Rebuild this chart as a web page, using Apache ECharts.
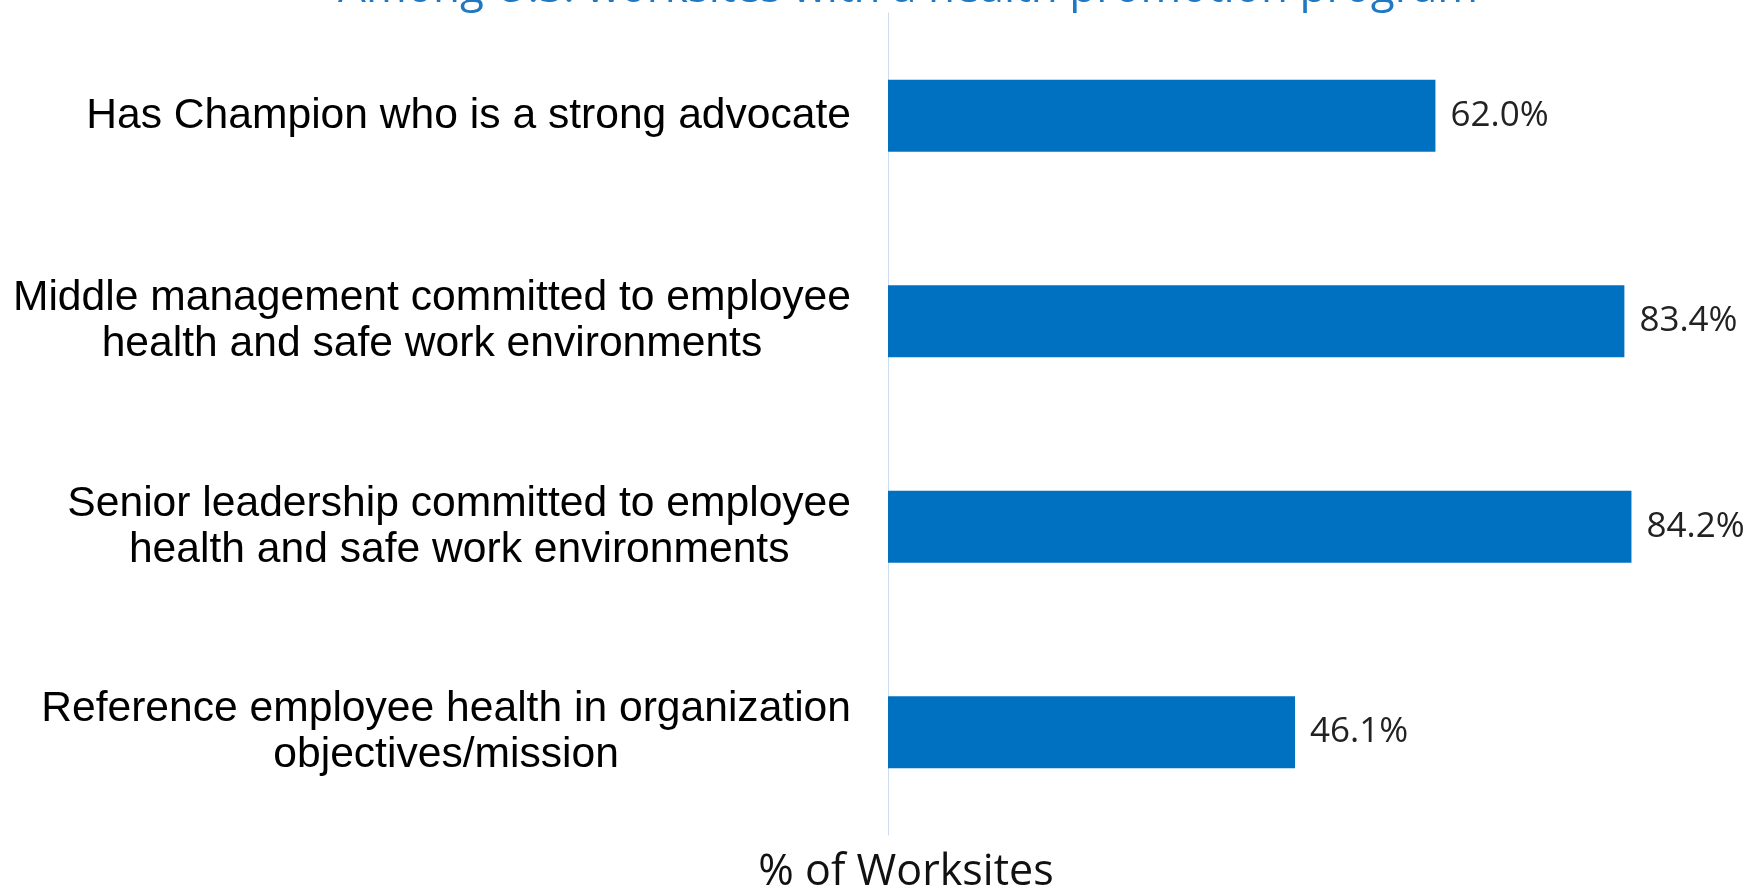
<!DOCTYPE html>
<html>
<head>
<meta charset="utf-8">
<script src="https://cdn.jsdelivr.net/npm/echarts@6/dist/echarts.min.js"></script>
<style>
html,body{margin:0;padding:0;background:#fff;}
#chart{width:1748px;height:889px;}
</style>
</head>
<body>
<div id="chart"></div>
<script>
const titleText = 'Among U.S. worksites with a health promotion program';
const axisTitle = '% of Worksites';
const categories = [
  'Has Champion who is a strong advocate',
  'Middle management committed to employee\nhealth and safe work environments',
  'Senior leadership committed to employee\nhealth and safe work environments',
  'Reference employee health in organization\nobjectives/mission'
];
const values = [62.0, 83.4, 84.2, 46.1];

const chart = echarts.init(document.getElementById('chart'), null, {renderer: 'canvas'});
chart.setOption({
  backgroundColor: '#ffffff',
  animation: false,
  grid: {left: 888, top: 13, right: 0, height: 822, containLabel: false},
  xAxis: {
    type: 'value', min: 0, max: 97.4,
    axisLine: {show: false}, axisTick: {show: false},
    axisLabel: {show: false}, splitLine: {show: false}
  },
  yAxis: {
    type: 'category', inverse: true, data: categories,
    axisLine: {show: true, lineStyle: {color: '#cbdcee', width: 1}},
    axisTick: {show: false},
    axisLabel: {
      margin: 37,
      formatter: function (v) {
        return v.split('\n').map(function (l) { return '{a|' + l + '}'; }).join('\n');
      },
      rich: {
        a: {align: 'center', fontFamily: '"Liberation Sans", Arial, sans-serif', fontSize: 42.6, lineHeight: 46, color: '#000000'}
      }
    }
  },
  series: [{
    type: 'bar',
    data: values,
    barWidth: 72,
    itemStyle: {color: '#0070C0'},
    label: {
      show: true, position: 'right', distance: 15,
      formatter: function (p) { return p.value.toFixed(1) + '%'; },
      fontFamily: '"Open Sans", sans-serif', fontSize: 35, color: '#222222'
    }
  }],
  graphic: [
    {type: 'text', x: 908, y: -11, style: {text: titleText, fontFamily: '"Open Sans", sans-serif', fontSize: 44, fill: '#1f78c1', align: 'center', verticalAlign: 'middle'}},
    {type: 'text', x: 906, y: 873, style: {text: axisTitle, fontFamily: '"Open Sans", sans-serif', fontSize: 43, fill: '#111111', align: 'center', verticalAlign: 'middle'}}
  ]
});
</script>
</body>
</html>
